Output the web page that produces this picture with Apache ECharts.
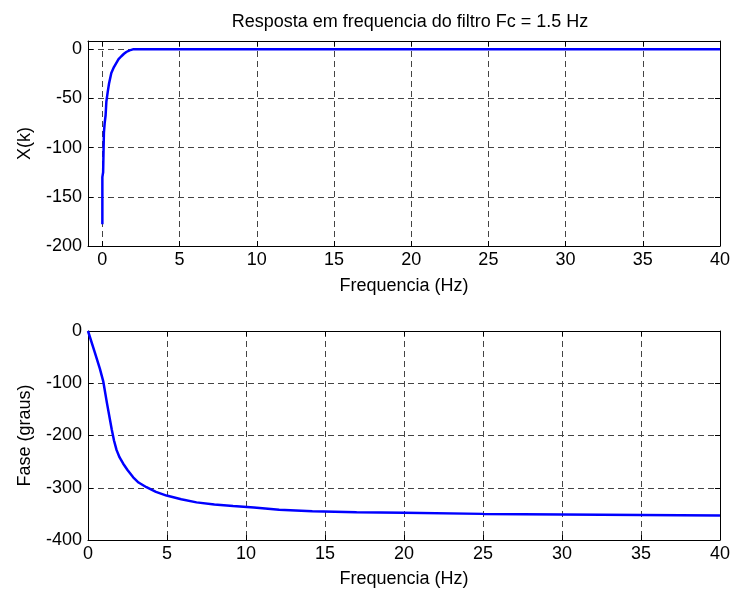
<!DOCTYPE html>
<html>
<head>
<meta charset="utf-8">
<script src="https://cdn.jsdelivr.net/npm/echarts@6/dist/echarts.min.js"></script>
<style>html,body{margin:0;padding:0;background:#fff}#c{width:733px;height:592px}</style>
</head>
<body>
<div id="c"></div>
<script>
// Magnitude response (dB) vs frequency (Hz)
const magFreq = [0, 0, 0.05, 0.08, 0.1, 0.15, 0.21, 0.26, 0.35, 0.43, 0.58, 0.75, 0.9, 1.05, 1.23, 1.4, 1.55, 1.76, 1.98, 40];
const magDb   = [-178, -130, -125, -100, -85, -75, -67, -53, -43, -35, -24, -18, -14, -10, -7, -4.5, -2.7, -1, 0, 0];
// Phase response (degrees) vs frequency (Hz)
const phaseFreq = [0, 0.44, 0.75, 0.97, 1.2, 1.5, 1.65, 1.81, 2.0, 2.23, 2.5, 2.86, 3.2, 3.7, 4.3, 4.97, 5.9, 6.87, 8, 9.18, 10.5, 12.1, 14.2, 17, 20, 25, 30, 35, 40];
const phaseDeg  = [0, -42, -72, -97, -138, -188, -210, -228, -242, -254, -266, -280, -290, -299, -308, -315, -322, -328, -332, -335, -338, -342, -345, -347, -348, -350, -351, -352, -353];
// Tick values
const xTicks = [0, 5, 10, 15, 20, 25, 30, 35, 40];

const titleText = 'Resposta em frequencia do filtro Fc = 1.5 Hz';
const xName = 'Frequencia (Hz)';
const yName1 = 'X(k)';
const yName2 = 'Fase (graus)';

const font = 'Liberation Sans, Arial, sans-serif';
const fs = 18;
const gridDash = { color: '#444', type: [6, 4], width: 1 };

function zip(a, b) { return a.map((v, i) => [v, b[i]]); }

function xAxisMain(gi, min, gap) {
  return {
    type: 'value', gridIndex: gi, min: min, max: 40, position: 'bottom',
    name: xName, nameLocation: 'middle', nameGap: gap,
    nameTextStyle: { fontFamily: font, fontSize: fs, color: '#000' },
    axisLine: { show: true, onZero: false, lineStyle: { color: '#000', width: 1 } },
    axisTick: { show: true, inside: true, length: 5, lineStyle: { color: '#000' }, customValues: xTicks },
    axisLabel: { fontFamily: font, fontSize: fs, color: '#000', margin: 5, customValues: xTicks },
    splitLine: { show: true, lineStyle: gridDash }
  };
}
function xAxisTop(gi, min) {
  return {
    type: 'value', gridIndex: gi, min: min, max: 40, position: 'top',
    axisLine: { show: true, onZero: false, lineStyle: { color: '#000', width: 1 } },
    axisTick: { show: true, inside: true, length: 5, lineStyle: { color: '#000' }, customValues: xTicks },
    axisLabel: { show: false }, splitLine: { show: false }
  };
}
function yAxisMain(gi, min, max, interval, name, gap) {
  return {
    type: 'value', gridIndex: gi, min: min, max: max, interval: interval, position: 'left',
    name: name, nameLocation: 'middle', nameGap: gap,
    nameTextStyle: { fontFamily: font, fontSize: fs, color: '#000' },
    axisLine: { show: true, onZero: false, lineStyle: { color: '#000', width: 1 } },
    axisTick: { show: true, inside: true, length: 5, lineStyle: { color: '#000' } },
    axisLabel: { fontFamily: font, fontSize: fs, color: '#000', margin: 6, showMaxLabel: max === 0 },
    splitLine: { show: true, lineStyle: gridDash }
  };
}
function yAxisRight(gi, min, max, interval) {
  return {
    type: 'value', gridIndex: gi, min: min, max: max, interval: interval, position: 'right',
    axisLine: { show: true, onZero: false, lineStyle: { color: '#000', width: 1 } },
    axisTick: { show: true, inside: true, length: 5, lineStyle: { color: '#000' } },
    axisLabel: { show: false }, splitLine: { show: false }
  };
}

const chart = echarts.init(document.getElementById('c'), null, { renderer: 'canvas' });
chart.setOption({
  animation: false,
  backgroundColor: '#fff',
  title: {
    text: titleText, left: 405, top: 8, textAlign: 'center',
    textStyle: { fontFamily: font, fontSize: fs, fontWeight: 'normal', color: '#000' }
  },
  grid: [
    { left: 88, top: 41, width: 634, height: 205 },
    { left: 88, top: 331, width: 634, height: 209 }
  ],
  xAxis: [xAxisMain(0, -0.93, 31), xAxisTop(0, -0.93), xAxisMain(1, 0, 30), xAxisTop(1, 0)],
  yAxis: [
    yAxisMain(0, -200, 8.5, 50, yName1, 54), yAxisRight(0, -200, 8.5, 50),
    yAxisMain(1, -400, 0, 100, yName2, 54), yAxisRight(1, -400, 0, 100)
  ],
  series: [
    { type: 'line', xAxisIndex: 0, yAxisIndex: 0, data: zip(magFreq, magDb), showSymbol: false,
      lineStyle: { color: '#0000ff', width: 2.5 }, clip: true },
    { type: 'line', xAxisIndex: 2, yAxisIndex: 2, data: zip(phaseFreq, phaseDeg), showSymbol: false,
      lineStyle: { color: '#0000ff', width: 2.5 }, clip: true }
  ]
});
</script>
</body>
</html>
